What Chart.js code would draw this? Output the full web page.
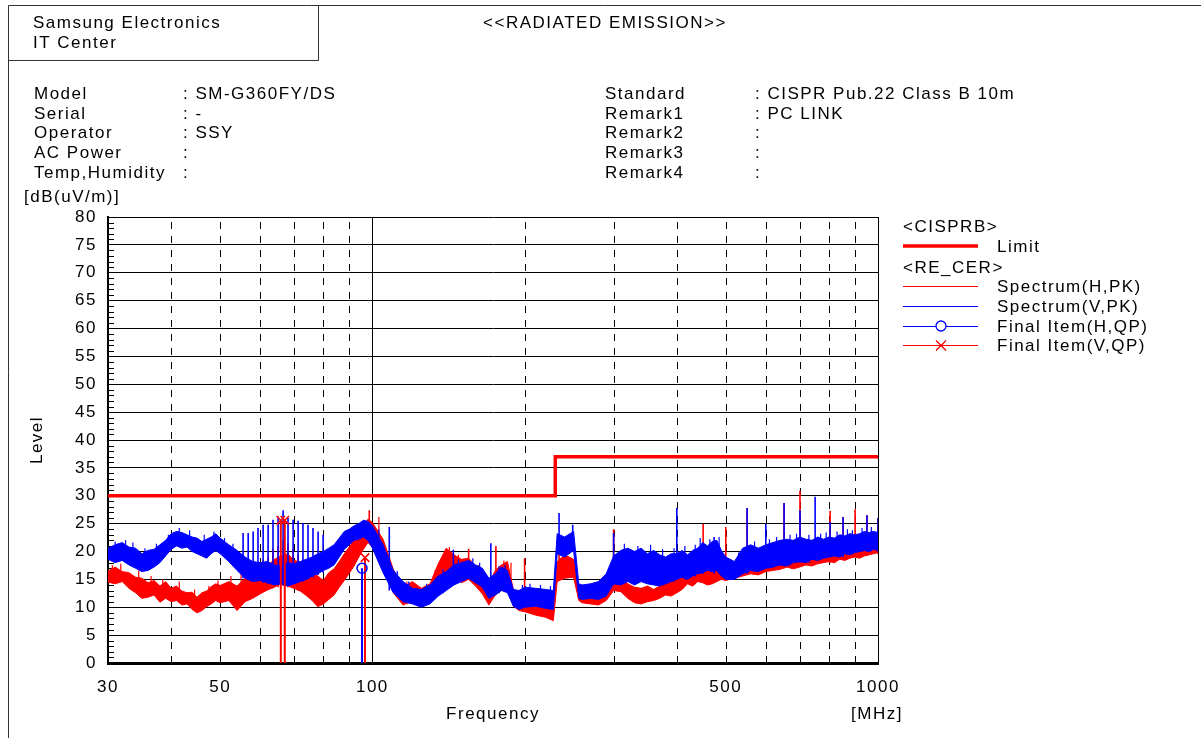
<!DOCTYPE html>
<html lang="en">
<head>
<meta charset="UTF-8">
<title>Radiated Emission</title>
<script src="https://cdn.jsdelivr.net/npm/chart.js"></script>
<style>
  body { margin: 0; background: #fff; }
  #chart { display: block; }
</style>
</head>
<body>
<canvas id="chart" width="1201" height="738"></canvas>
<script>
// frequency grid (MHz) shared by both spectrum traces
const freqs = [30,31,32,33,34,35,36,37,38,39,40,41,42,43,44,45,46,47,48,49,50,
  52,54,56,58,60,62,64,66,68,70,72,74,76,78,80,82,84,86,88,90,92,94,96,98,100,
  105,110,115,120,125,130,135,140,145,150,155,160,165,170,175,180,185,190,195,200,
  210,220,228,232,240,250,256,260,270,280,290,300,
  310,320,330,340,350,360,370,380,390,400,410,420,430,440,450,460,470,480,490,500,
  520,540,560,580,600,620,640,660,680,700,720,740,760,780,800,820,840,860,880,900,920,940,960,980,1000];

// Spectrum(H,PK): lower and upper edge of the noisy trace, dB(uV/m)
const hLow = [14.5,14.2,14.6,13.4,12.6,11.6,11.8,12.2,10.9,11.6,11.0,11.2,10.4,10.6,9.6,9.0,9.4,10.1,10.6,11.2,10.8,
  11.2,9.4,11.0,11.6,12.4,13.1,13.6,14.2,13.8,13.4,12.9,12.1,11.2,10.1,10.6,11.4,12.2,13.6,14.8,16.1,17.4,19.0,20.4,21.6,20.8,
  16.8,12.6,10.4,11.2,10.4,11.0,13.2,16.4,15.6,14.4,15.0,13.8,12.4,10.4,12.2,13.0,13.6,10.2,9.4,9.2,
  8.6,8.2,7.6,14.6,15.2,15.4,11.2,10.8,10.6,10.4,11.2,13.0,
  12.8,11.6,10.8,10.6,11.0,11.2,11.6,12.2,12.0,12.6,13.2,14.2,13.8,14.6,14.4,14.0,14.2,14.6,15.0,14.8,
  15.2,15.6,16.0,15.8,16.4,16.6,16.8,17.2,16.9,17.2,17.6,17.4,17.8,18.0,18.2,18.0,18.6,18.4,18.8,19.0,18.8,19.2,19.4,19.6,19.8];
const hHigh = [16.5,17.2,16.4,16.2,15.4,15.2,14.4,14.8,13.8,14.6,13.4,13.8,12.9,12.6,12.7,11.8,12.6,12.9,13.7,14.2,13.9,
  14.6,13.8,15.2,15.4,16.8,17.4,18.6,19.2,19.6,18.4,18.1,17.6,16.3,15.6,14.8,16.2,16.9,18.2,19.6,20.8,22.1,23.2,24.6,25.8,25.2,
  22.2,16.8,13.6,14.6,13.4,14.2,17.8,20.6,19.4,18.6,18.8,17.4,16.2,14.2,16.6,17.6,18.2,13.2,12.6,12.2,
  11.6,11.2,10.6,18.2,19.4,18.6,13.8,13.4,13.6,13.2,14.2,16.6,
  15.4,14.2,13.6,13.4,13.8,13.2,13.8,14.4,14.6,15.2,15.6,16.6,16.4,17.2,17.0,16.8,16.6,17.2,17.6,17.4,
  17.8,18.2,18.6,18.4,19.0,19.2,19.4,19.8,19.6,20.0,20.2,20.0,20.6,20.4,20.8,20.8,21.2,21.0,21.6,21.4,21.6,22.0,21.8,22.2,22.0];

// Spectrum(V,PK)
const vLow = [18.6,18.0,18.4,17.6,17.0,16.4,16.6,17.2,18.0,19.2,20.4,21.0,20.6,20.8,20.0,19.6,19.2,18.8,19.6,20.2,19.6,
  18.2,16.6,15.2,14.6,14.8,14.4,14.0,14.2,13.8,14.2,14.6,15.0,15.6,16.0,16.6,17.0,17.6,19.0,20.4,21.2,22.0,22.2,22.6,22.0,20.6,
  16.2,12.6,11.0,10.6,10.0,10.6,12.0,13.0,14.0,14.6,15.2,14.4,13.6,11.6,12.2,13.0,12.6,10.2,9.6,10.0,
  10.2,9.8,9.6,19.6,19.0,20.2,11.6,11.4,11.6,11.4,12.0,14.2,
  14.0,14.6,14.0,14.6,14.2,14.0,13.8,14.2,14.6,15.0,15.4,15.0,15.6,16.0,16.2,16.6,16.4,16.6,15.6,15.0,
  15.0,16.0,16.6,16.4,17.0,17.2,17.6,17.4,18.0,18.2,18.0,18.6,18.4,18.8,19.0,19.2,19.0,19.6,19.4,19.8,20.0,20.2,20.0,20.4,20.2];
const vHigh = [20.6,21.2,21.6,20.8,20.6,19.6,20.2,20.4,21.2,22.0,23.2,23.6,23.4,23.0,22.6,22.4,21.8,22.2,22.6,23.2,22.4,
  21.2,20.2,19.0,18.2,18.0,18.2,17.6,17.4,18.0,17.8,18.2,18.6,19.0,19.6,20.0,20.6,21.2,22.4,23.6,24.0,24.6,25.0,25.6,25.4,24.6,
  21.2,16.6,14.6,13.4,13.2,14.0,15.6,16.4,17.6,18.0,18.4,17.6,17.0,15.2,16.0,17.2,16.6,13.2,13.0,13.6,
  13.4,13.2,13.0,23.2,22.6,23.6,14.2,14.0,14.2,14.6,16.0,19.2,
  20.2,20.6,20.0,20.6,19.6,20.2,19.4,19.0,19.6,19.6,20.2,19.4,20.2,20.6,21.6,21.0,21.8,22.0,20.2,19.0,
  18.2,20.6,21.2,20.6,21.2,21.6,22.0,22.2,22.0,22.6,22.2,22.0,22.6,22.2,22.6,22.4,23.0,22.8,23.2,23.0,23.2,23.6,23.4,23.6,23.4];

// narrow peaks standing out of the traces
const hSpikeFreq = [59.4,60.8,62.2,63.6,65.1,66.6,68.1,69.7,71.3,72.9,98.6,155,175.5,200,234,300,451,500,551,652,701,804,853,901,951,1000];
const hSpikeBase = [13.0,13.0,13.2,13.4,13.6,13.8,13.6,13.4,13.0,12.8,22.0,15.0,13.0,9.5,15.0,13.0,15.0,15.0,16.0,17.0,17.5,18.0,18.5,19.0,19.2,19.5];
const hSpikeTop = [17.5,18.5,19.0,20.5,21.0,22.0,21.5,20.5,19.5,18.5,27.4,20.5,21.0,18.8,20.0,24.0,25.0,24.4,27.8,28.7,30.9,27.3,26.2,27.6,26.5,26.0];
const vSpikeFreq = [55.5,56.8,58.1,59.4,60.8,62.2,63.6,65.1,66.6,68.1,69.7,71.3,72.9,74.6,76.3,78.1,79.9,
  108,144.6,171.5,234,249,300,400,451,474,551,600,652,701,751,804,853,951,1000];
const vSpikeBase = [15.2,15.0,14.6,14.6,14.4,14.2,14.0,14.0,14.0,14.0,14.2,14.4,14.6,15.0,15.4,15.8,16.2,
  13.0,15.0,13.0,20.0,20.0,14.0,15.0,16.0,16.0,16.0,17.0,17.5,18.0,18.5,19.0,19.0,20.0,20.0];
const vSpikeTop = [23.3,23.3,23.6,24.2,24.8,24.8,25.7,26.3,27.4,26.0,25.7,25.5,25.1,24.8,24.2,23.6,23.0,
  24.4,20.3,21.5,26.9,24.8,23.3,27.8,20.8,22.6,27.8,25.0,28.7,27.4,29.8,25.3,26.2,26.5,26.0];

// smaller noise ripples poking out of the band edges
const hRippleFreq = [30.6,31.8,34.5,36.5,38.5,41.5,44.5,47.5,49.5,52.5,55,57,
  103,117,133,142,148,162,182,188,205,215,225];
const hRippleLow = [15,15,13,12,11.5,11.5,10,10.5,11,12,11.5,12,
  22,10.5,12,16,15,13.5,13,13,9,8.5,8];
const hRippleHigh = [17.6,17.8,16.6,15.6,15,14.6,13.2,13.8,14.8,15.6,16,16.4,
  26.2,14.6,16.6,20.8,19.4,17.6,18.4,18,12.4,12,11.6];
const vRippleFreq = [31,32.5,33.6,35.5,37.4,39.5,41.5,43.5,46.5,48.6,51,53,
  103,112,118,128,138,148,158,163,178,183,198,205,215,225,
  315,335,355,375,395,415,435,445,465,485,
  530,570,610,630,670,690,730,770,790,830,870,890,930,970];
const vRippleLow = [19,19,18.5,17,17.5,20,21,21,20,20,19,18,
  20,13,11,10.5,12.5,14.5,15,14,12.5,13,10,10,10,10,
  15,15,14.5,14,14.5,15,15.5,16,16.5,16,
  15.5,16.5,17,17.5,17.5,18,18,18.5,19,19,19.5,19.5,20,20];
const vRippleHigh = [21.8,22,21.6,20.6,21.4,23,24.2,23.8,23,23.6,22.4,21.4,
  24,16.5,14.6,14.2,16.8,18.6,18.8,18,17.4,17.6,14,14.2,14,13.8,
  21.4,21,21.2,20.4,20.6,21,21.2,22.4,22.2,22.6,
  19.8,21.8,22.2,22.6,23,23.2,23,23.2,23.4,23.6,24,23.8,24.2,24.4];

// CISPR 22 class B 10 m limit
const limitFreq = [30, 230, 230, 1000];
const limitLevel = [30, 30, 37, 37];

// final QP measurements
const finalHFreq = [95.4];
const finalHLevel = [17.0];
const finalVFreq = [65.9, 67.1, 96.7];
const finalVLevel = [25.6, 25.6, 18.9];

const xTickLabels = [30, 50, 100, 500, 1000];
const xGridDashed = [40, 50, 60, 70, 80, 90, 200, 300, 400, 500, 600, 700, 800, 900];
const xGridSolid = [100];

const RED = '#ff0000';
const BLUE = '#0000ff';
const FONT = '"Liberation Sans", Arial, sans-serif';

const pts = (xs, ys) => xs.map((x, i) => ({ x: x, y: ys[i] }));
const spikes = (xs, lo, hi) => xs.flatMap((x, i) => [{ x: x, y: lo[i] }, { x: x, y: hi[i] }, { x: x, y: null }]);
const drops = (xs, ys) => xs.flatMap((x, i) => [{ x: x, y: 0 }, { x: x, y: ys[i] }, { x: x, y: null }]);

// dashed frequency grid, minor level ticks, outer frame of the plot
const gridPlugin = {
    id: 'emcGrid',
    beforeDatasetsDraw(chart) {
        const { ctx, chartArea: { top, bottom, left, right }, scales: { x, y } } = chart;
        ctx.save();
        ctx.strokeStyle = '#000';
        ctx.lineWidth = 1;
        ctx.setLineDash([7, 7]);
        xGridDashed.forEach(v => {
            const px = Math.round(x.getPixelForValue(v)) + 0.5;
            ctx.beginPath();
            ctx.moveTo(px, bottom);
            ctx.lineTo(px, top);
            ctx.stroke();
        });
        ctx.setLineDash([]);
        xGridSolid.forEach(v => {
            const px = Math.round(x.getPixelForValue(v)) + 0.5;
            ctx.beginPath();
            ctx.moveTo(px, bottom);
            ctx.lineTo(px, top);
            ctx.stroke();
        });
        for (let v = 1; v < 80; v++) {
            if (v % 5 === 0) continue;
            const py = Math.round(y.getPixelForValue(v)) + 0.5;
            ctx.beginPath();
            ctx.moveTo(left, py);
            ctx.lineTo(left + 6, py);
            ctx.stroke();
        }
        ctx.beginPath();
        ctx.moveTo(Math.round(right) + 0.5, top);
        ctx.lineTo(Math.round(right) + 0.5, bottom);
        ctx.stroke();
        ctx.restore();
    }
};

// header block, axis titles and legend
const textPlugin = {
    id: 'emcText',
    beforeDraw(chart) {
        const ctx = chart.ctx;
        ctx.save();
        ctx.fillStyle = '#fff';
        ctx.fillRect(0, 0, chart.width, chart.height);
        ctx.restore();
        ctx.letterSpacing = '1.5px';
    },
    afterDraw(chart) {
        const ctx = chart.ctx;
        ctx.save();
        ctx.letterSpacing = '1.5px';
        ctx.font = '17px ' + FONT;
        ctx.fillStyle = '#000';
        ctx.textBaseline = 'middle';
        const txt = (s, x, y, align) => { ctx.textAlign = align || 'left'; ctx.fillText(s, x, y); };

        // frame
        ctx.strokeStyle = '#333';
        ctx.lineWidth = 1;
        ctx.beginPath();
        ctx.moveTo(8.5, 738); ctx.lineTo(8.5, 5.5); ctx.lineTo(1201, 5.5);
        ctx.moveTo(8.5, 60.5); ctx.lineTo(318.5, 60.5); ctx.lineTo(318.5, 5.5);
        ctx.stroke();

        txt('Samsung Electronics', 33, 23);
        txt('IT Center', 33, 43);
        txt('<<RADIATED EMISSION>>', 605, 23, 'center');

        const rowY = [94, 114, 133, 153, 173];
        const leftKeys = ['Model', 'Serial', 'Operator', 'AC Power', 'Temp,Humidity'];
        const leftVals = [': SM-G360FY/DS', ': -', ': SSY', ':', ':'];
        const rightKeys = ['Standard', 'Remark1', 'Remark2', 'Remark3', 'Remark4'];
        const rightVals = [': CISPR Pub.22 Class B 10m', ': PC LINK', ':', ':', ':'];
        rowY.forEach((y, i) => {
            txt(leftKeys[i], 34, y);
            txt(leftVals[i], 183, y);
            txt(rightKeys[i], 605, y);
            txt(rightVals[i], 755, y);
        });

        txt('[dB(uV/m)]', 24, 197);
        txt('Frequency', 493, 714, 'center');
        txt('[MHz]', 851, 714);
        ctx.save();
        ctx.translate(37, 440);
        ctx.rotate(-Math.PI / 2);
        txt('Level', 0, 0, 'center');
        ctx.restore();

        // legend
        const lx0 = 903, lx1 = 978, tx = 997;
        txt('<CISPRB>', lx0, 227);
        txt('Limit', tx, 247);
        txt('<RE_CER>', lx0, 268);
        txt('Spectrum(H,PK)', tx, 287);
        txt('Spectrum(V,PK)', tx, 307);
        txt('Final Item(H,QP)', tx, 327);
        txt('Final Item(V,QP)', tx, 346);
        const seg = (y, color, w) => {
            ctx.strokeStyle = color; ctx.lineWidth = w;
            ctx.beginPath(); ctx.moveTo(lx0, y); ctx.lineTo(lx1, y); ctx.stroke();
        };
        seg(246, RED, 3.5);
        seg(286.5, RED, 1.2);
        seg(306.5, BLUE, 1.2);
        seg(326.5, BLUE, 1.2);
        seg(345.5, RED, 1.2);
        ctx.fillStyle = '#fff';
        ctx.strokeStyle = BLUE; ctx.lineWidth = 1.3;
        ctx.beginPath(); ctx.arc(941, 326, 5, 0, Math.PI * 2); ctx.fill(); ctx.stroke();
        ctx.strokeStyle = RED;
        ctx.beginPath();
        ctx.moveTo(936, 340.5); ctx.lineTo(946, 350.5);
        ctx.moveTo(946, 340.5); ctx.lineTo(936, 350.5);
        ctx.stroke();
        ctx.restore();
    }
};

const line = (data, color, width, order, extra) => Object.assign({
    data: data, borderColor: color, backgroundColor: color, borderWidth: width,
    pointRadius: 0, tension: 0, fill: false, order: order
}, extra || {});

new Chart(document.getElementById('chart'), {
    type: 'line',
    data: {
        datasets: [
            line(pts(limitFreq, limitLevel), RED, 3.5, 0),
            line(pts(finalVFreq, finalVLevel), RED, 1.5, 1, { showLine: false, pointStyle: 'crossRot', pointRadius: 6, pointBorderWidth: 1.5, pointBorderColor: RED }),
            line(pts(finalHFreq, finalHLevel), BLUE, 1.5, 1, { showLine: false, pointStyle: 'circle', pointRadius: 5, pointBorderWidth: 1.5, pointBorderColor: BLUE, pointBackgroundColor: 'rgba(0,0,0,0)' }),
            line(drops(finalVFreq, finalVLevel), RED, 2, 2),
            line(drops(finalHFreq, finalHLevel), BLUE, 2, 2),
            line(spikes(vSpikeFreq, vSpikeBase, vSpikeTop), BLUE, 1.6, 4),
            line(spikes(vRippleFreq, vRippleLow, vRippleHigh), BLUE, 1.2, 4),
            line(pts(freqs, vHigh), BLUE, 1, 5, { fill: '+1' }),
            line(pts(freqs, vLow), BLUE, 1, 5),
            line(spikes(hSpikeFreq, hSpikeBase, hSpikeTop), RED, 1.6, 8),
            line(spikes(hRippleFreq, hRippleLow, hRippleHigh), RED, 1.2, 8),
            line(pts(freqs, hHigh), RED, 1, 9, { fill: '+1' }),
            line(pts(freqs, hLow), RED, 1, 9)
        ]
    },
    options: {
        responsive: false,
        animation: false,
        events: [],
        layout: { padding: { left: 0, top: 217, right: 323, bottom: 0 } },
        plugins: { legend: { display: false }, tooltip: { enabled: false } },
        scales: {
            x: {
                type: 'logarithmic',
                min: 30,
                max: 1000,
                afterBuildTicks: s => { s.ticks = xTickLabels.map(v => ({ value: v })); },
                afterFit: s => { s.height = 75; },
                ticks: {
                    autoSkip: false, maxRotation: 0, color: '#000', padding: 14,
                    font: { size: 17, family: FONT },
                    callback: v => String(v)
                },
                grid: { display: false, drawTicks: false },
                border: { display: true, color: '#000', width: 3 }
            },
            y: {
                min: 0,
                max: 80,
                afterFit: s => { s.width = 108; },
                ticks: { stepSize: 5, color: '#000', padding: 11, font: { size: 17, family: FONT } },
                grid: { color: '#000', lineWidth: 1, drawTicks: false },
                border: { color: '#000', width: 2 }
            }
        }
    },
    plugins: [gridPlugin, textPlugin]
});
</script>
</body>
</html>
